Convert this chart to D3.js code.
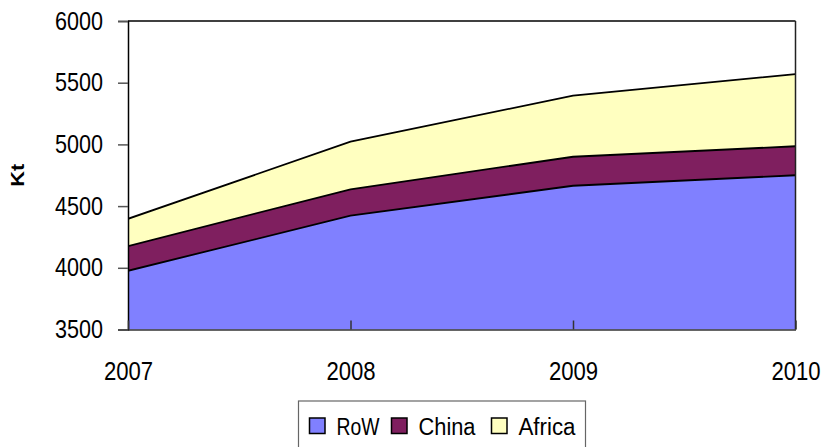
<!DOCTYPE html>
<html><head><meta charset="utf-8">
<script src="https://cdn.jsdelivr.net/npm/d3@7"></script>
<style>
html,body{margin:0;padding:0;background:#fff;}
svg{display:block;}
text{font-family:"Liberation Sans",Arial,sans-serif;}
</style></head>
<body>
<svg id="chart" width="832" height="447"></svg>
<script>
const years = ["2007","2008","2009","2010"];
const seriesNames = ["RoW","China","Africa"];
const rowValues = [3976, 4422, 4665, 4750];
const chinaValues = [200, 214, 235, 235];
const africaValues = [221, 386, 495, 585];
const yTicks = [3500, 4000, 4500, 5000, 5500, 6000];
const colors = ["#8080ff", "#7f1f5f", "#ffffc0"];

const rows = years.map((y, i) => ({year: y, RoW: rowValues[i], China: chinaValues[i], Africa: africaValues[i]}));
const stacked = d3.stack().keys(seriesNames)(rows);

const svg = d3.select("#chart");
const L = 128, R = 795.5, T = 21, B = 329.5;
const x = d3.scalePoint().domain(years).range([L, R]);
const y = d3.scaleLinear().domain([3500, 6000]).range([B, T]);

// narrow-font emulation: compress text horizontally
function narrow(sel, perChar) {
  sel.each(function() {
    const t = d3.select(this);
    const n = t.text().length;
    t.attr("textLength", n * perChar).attr("lengthAdjust", "spacingAndGlyphs");
  });
}

svg.append("defs").append("clipPath").attr("id","clip")
  .append("rect").attr("x", L).attr("y", T).attr("width", R - L).attr("height", B - T);

const area = d3.area().x(d => x(d.data.year)).y0(d => y(d[0])).y1(d => y(d[1]));
const line = d3.line().x(d => x(d.data.year)).y(d => y(d[1]));

const g = svg.append("g").attr("clip-path", "url(#clip)");
g.selectAll("path.area").data(stacked).enter().append("path")
  .attr("class","area").attr("d", area).attr("fill", (d, i) => colors[i]);
g.selectAll("path.edge").data(stacked).enter().append("path")
  .attr("class","edge").attr("d", line).attr("fill","none")
  .attr("stroke","#000").attr("stroke-width",1.8);

// plot frame
svg.append("line").attr("x1", L).attr("x2", R).attr("y1", T).attr("y2", T).attr("stroke","#000").attr("stroke-width",1.5);
svg.append("line").attr("x1", R).attr("x2", R).attr("y1", T).attr("y2", B).attr("stroke","#222").attr("stroke-width",1.5);

// y axis
const yAxis = d3.axisLeft(y).tickValues(yTicks).tickSize(10).tickPadding(15).tickFormat(d3.format("d"));
const ya = svg.append("g").attr("transform", `translate(${L},0)`).call(yAxis);
ya.select(".domain").attr("stroke","#000").attr("stroke-width",1.5);
ya.selectAll(".tick line").attr("stroke","#555").attr("stroke-width",1.5);
ya.selectAll(".tick text").attr("font-size", 25.5).attr("fill","#000")
  .style("font-family", '"Liberation Sans",Arial,sans-serif').call(narrow, 12);

// x axis
const xAxis = d3.axisBottom(x).tickSize(-9).tickPadding(32).tickSizeOuter(0);
const xa = svg.append("g").attr("transform", `translate(0,${B})`).call(xAxis);
xa.select(".domain").attr("stroke","#333").attr("stroke-width",1.5);
xa.selectAll(".tick line").attr("stroke","#333").attr("stroke-width",1.5);
xa.selectAll(".tick text").attr("font-size", 25.5).attr("fill","#000")
  .style("font-family", '"Liberation Sans",Arial,sans-serif').call(narrow, 12.3);

// y title
svg.append("text").attr("transform", `translate(23.5,${(T + B) / 2}) rotate(-90)`)
  .attr("text-anchor","middle").attr("font-size", 19).attr("font-weight","bold")
  .attr("textLength", 23).attr("lengthAdjust","spacingAndGlyphs").text("Kt");

// legend
const lg = svg.append("g");
lg.append("rect").attr("x", 298.5).attr("y", 401).attr("width", 287).attr("height", 52)
  .attr("fill","#fff").attr("stroke","#666").attr("stroke-width",1.2);
const legendX = [309.5, 391.5, 491.5];
const legendW = [43, 57, 57];
seriesNames.forEach((n, i) => {
  lg.append("rect").attr("x", legendX[i]).attr("y", 418).attr("width", 15.5).attr("height", 15.5)
    .attr("fill", colors[i]).attr("stroke","#000").attr("stroke-width",1.5);
  lg.append("text").attr("x", legendX[i] + 27).attr("y", 434.5).attr("font-size", 23)
    .attr("textLength", legendW[i]).attr("lengthAdjust","spacingAndGlyphs").text(n);
});
</script>
</body></html>
